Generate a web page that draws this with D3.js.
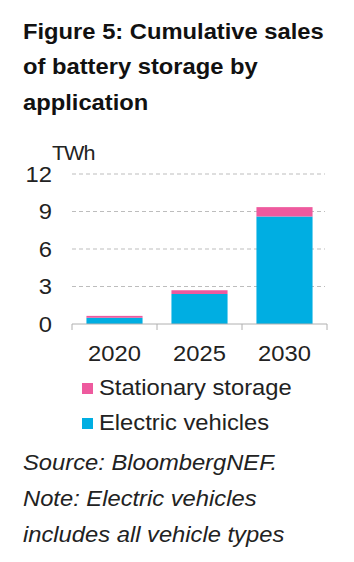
<!DOCTYPE html>
<html>
<head>
<meta charset="utf-8">
<script src="https://cdn.jsdelivr.net/npm/d3@7"></script>
<style>
  html, body { margin: 0; padding: 0; background: #fff; }
  svg { display: block; font-family: "Liberation Sans", Arial, sans-serif; }
</style>
</head>
<body>
<div id="chart"></div>
<script>
// data
const years = ["2020", "2025", "2030"];
const electricVehicles = [0.5, 2.4, 8.6];
const stationaryStorage = [0.15, 0.3, 0.75];
const yTicks = [0, 3, 6, 9, 12];
const seriesNames = ["Stationary storage", "Electric vehicles"];
const seriesColors = { "Electric vehicles": "#00aee2", "Stationary storage": "#ee5a9e" };

const W = 354, H = 562;
const margin = { top: 174, right: 27, bottom: 238, left: 72 };
const width = W - margin.left - margin.right;
const height = H - margin.top - margin.bottom;
const SX = 1.08; // source text looks a bit wider than Arial

// widen text horizontally around its own x anchor
function stretch(sel) {
    sel.each(function () {
        const ax = +(this.getAttribute("x") || 0);
        this.setAttribute("transform", "translate(" + (ax * (1 - SX)) + ",0) scale(" + SX + ",1)");
    });
}

const svg = d3.select("#chart").append("svg")
    .attr("width", W)
    .attr("height", H);

// title
const titleLines = ["Figure 5: Cumulative sales", "of battery storage by", "application"];
svg.append("text")
    .attr("x", 23)
    .attr("y", 39)
    .style("font-size", "22px")
    .style("font-weight", "bold")
    .style("fill", "#111")
    .call(stretch)
    .selectAll("tspan")
    .data(titleLines)
    .enter().append("tspan")
    .attr("x", 23)
    .attr("dy", (d, i) => i === 0 ? 0 : 35.5)
    .text(d => d);

const g = svg.append("g")
    .attr("transform", "translate(" + margin.left + "," + margin.top + ")");

// scales
const x = d3.scaleBand()
    .domain(years)
    .range([0, width])
    .paddingInner(0.34)
    .paddingOuter(0.17);
const y = d3.scaleLinear()
    .domain([0, 12])
    .range([height, 0]);

// gridlines
g.selectAll(".grid")
    .data(yTicks.filter(d => d > 0))
    .enter().append("line")
    .attr("x1", 0)
    .attr("x2", width - 2)
    .attr("y1", d => y(d))
    .attr("y2", d => y(d))
    .style("stroke", "#bdbdbd")
    .style("stroke-width", 1)
    .style("stroke-dasharray", "4,3");

// stacked bars
const rows = years.map((yr, i) => ({
    year: yr,
    "Electric vehicles": electricVehicles[i],
    "Stationary storage": stationaryStorage[i]
}));
const stack = d3.stack().keys(["Electric vehicles", "Stationary storage"]);
const layers = stack(rows);

g.selectAll(".layer")
    .data(layers)
    .enter().append("g")
    .style("fill", d => seriesColors[d.key])
    .selectAll("rect")
    .data(d => d)
    .enter().append("rect")
    .attr("x", d => x(d.data.year))
    .attr("width", x.bandwidth())
    .attr("y", d => y(d[1]))
    .attr("height", d => y(d[0]) - y(d[1]));

// x axis
const xAxis = g.append("g")
    .attr("transform", "translate(0," + height + ")")
    .call(d3.axisBottom(x).tickSize(0).tickPadding(21));
xAxis.select(".domain").remove();
xAxis.selectAll("text")
    .style("font-size", "22px")
    .style("fill", "#222")
    .style("font-family", "'Liberation Sans', Arial, sans-serif")
    .call(stretch);
g.append("line")
    .attr("x1", 0).attr("x2", width)
    .attr("y1", height).attr("y2", height)
    .style("stroke", "#b0b0b0");
const xSep = [0].concat(years.map(d => x(d) + x.bandwidth() + x.step() * x.paddingInner() / 2));
g.selectAll(".xtick")
    .data(xSep)
    .enter().append("line")
    .attr("x1", d => Math.min(d, width)).attr("x2", d => Math.min(d, width))
    .attr("y1", height).attr("y2", height + 6)
    .style("stroke", "#b0b0b0");

// y axis
const yAxis = g.append("g")
    .call(d3.axisLeft(y).tickValues(yTicks).tickSize(0).tickPadding(20));
yAxis.select(".domain").remove();
yAxis.selectAll("text")
    .style("font-size", "22px")
    .style("fill", "#222")
    .style("font-family", "'Liberation Sans', Arial, sans-serif")
    .call(stretch);

svg.append("text")
    .attr("x", 52)
    .attr("y", 160)
    .style("font-size", "20px")
    .style("fill", "#222")
    .style("letter-spacing", "-1px")
    .text("TWh")
    .call(stretch);

// legend
const legend = svg.append("g")
    .attr("transform", "translate(82,383)");
const li = legend.selectAll(".item")
    .data(seriesNames)
    .enter().append("g")
    .attr("transform", (d, i) => "translate(0," + i * 35 + ")");
li.append("rect")
    .attr("width", 11)
    .attr("height", 11)
    .style("fill", d => seriesColors[d]);
li.append("text")
    .attr("x", 17)
    .attr("y", 12)
    .style("font-size", "22px")
    .style("fill", "#222")
    .text(d => d)
    .call(stretch);

// source / note
const noteLines = ["Source: BloombergNEF.", "Note: Electric vehicles", "includes all vehicle types"];
svg.append("text")
    .attr("x", 23)
    .attr("y", 470)
    .style("font-size", "22px")
    .style("font-style", "italic")
    .style("fill", "#222")
    .call(stretch)
    .selectAll("tspan")
    .data(noteLines)
    .enter().append("tspan")
    .attr("x", 23)
    .attr("dy", (d, i) => i === 0 ? 0 : 36)
    .text(d => d);
</script>
</body>
</html>
